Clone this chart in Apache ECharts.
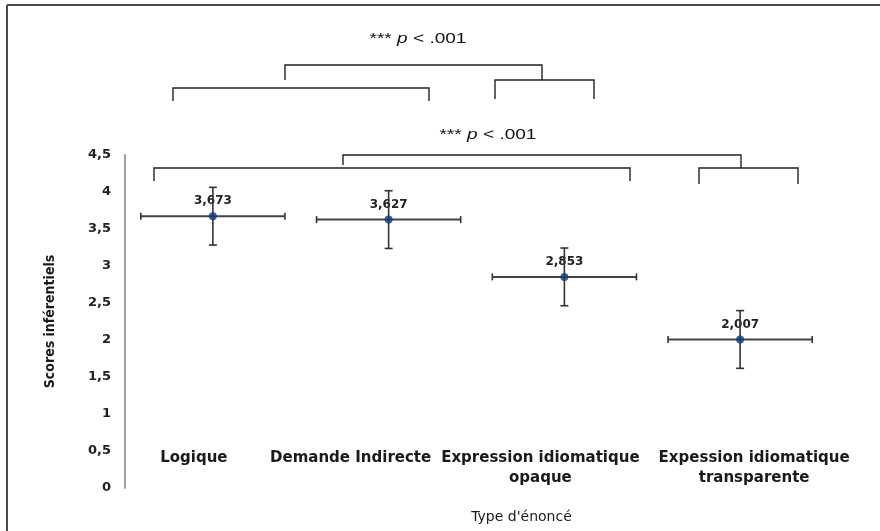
<!DOCTYPE html>
<html>
<head>
<meta charset="utf-8">
<script src="https://cdn.jsdelivr.net/npm/echarts@6/dist/echarts.min.js"></script>
<style>
html,body{margin:0;padding:0;background:#ffffff;}
#chart{width:880px;height:531px;}
</style>
</head>
<body>
<div id="chart"></div>
<script>
// ---- data ----
const categories = ['Logique', 'Demande Indirecte', 'Expression idiomatique\nopaque', 'Expession idiomatique\ntransparente'];
const means = [3.673, 3.627, 2.853, 2.007];
const yErr = [0.39, 0.39, 0.39, 0.39];
const xErr = [0.41, 0.41, 0.41, 0.41];
const yMin = 0, yMax = 4.5, yStep = 0.5;
const yTitle = 'Scores inférentiels';
const xTitle = "Type d'énoncé";
const sigText = ['*** ', 'p', ' < .001'];

const comma = v => String(v).replace('.', ',');
const fmt3 = v => v.toFixed(3).replace('.', ',');

const labelShift = [-19, -38, -24, 14];
const rich = {};
labelShift.forEach((s, i) => {
  rich['c' + i] = {
    fontFamily: 'DejaVu Sans', fontWeight: 'bold', fontSize: 15, color: '#1a1a1a', lineHeight: 20,
    padding: s < 0 ? [0, -2 * s, 0, 0] : [0, 0, 0, 2 * s]
  };
});

const chart = echarts.init(document.getElementById('chart'), null, {renderer: 'canvas'});

function bracket(pts) {
  return {
    type: 'polyline',
    shape: {points: pts},
    style: {stroke: '#222', lineWidth: 1.4, fill: null},
    silent: true
  };
}
function sig(x, y) {
  return {
    type: 'text', x: x, y: y, scaleX: 1.27, scaleY: 1,
    style: {
      text: '{n|' + sigText[0] + '}{i|' + sigText[1] + '}{n|' + sigText[2] + '}',
      align: 'center', verticalAlign: 'middle',
      rich: {
        n: {fontFamily: 'Liberation Sans', fontSize: 15, fill: '#111'},
        i: {fontFamily: 'Liberation Sans', fontSize: 15, fontStyle: 'italic', fill: '#111'}
      }
    },
    silent: true
  };
}

const option = {
  animation: false,
  backgroundColor: '#ffffff',
  grid: {left: 125, right: 52, top: 155, bottom: 43},
  xAxis: {
    type: 'category',
    data: categories,
    boundaryGap: true,
    axisLine: {show: false},
    axisTick: {show: false},
    splitLine: {show: false},
    axisLabel: {
      interval: 0,
      margin: -40,
      formatter: (v, i) => v.split('\n').map(t => '{c' + i + '|' + t + '}').join('\n'),
      rich: rich
    },
    name: xTitle,
    nameLocation: 'middle',
    nameGap: 22,
    nameTextStyle: {fontFamily: 'DejaVu Sans', fontSize: 14, color: '#1a1a1a', padding: [0, 0, 0, 90]}
  },
  yAxis: {
    type: 'value',
    min: yMin, max: yMax, interval: yStep,
    axisLine: {show: true, lineStyle: {color: '#a0a0a0', width: 2}},
    axisTick: {show: false},
    splitLine: {show: false},
    axisLabel: {
      margin: 14,
      formatter: v => comma(v),
      fontFamily: 'DejaVu Sans', fontWeight: 'bold', fontSize: 13, color: '#222'
    },
    name: yTitle,
    nameLocation: 'middle',
    nameRotate: 90,
    nameGap: 68,
    nameTextStyle: {fontFamily: "'Liberation Sans Narrow', 'DejaVu Sans Condensed', 'Liberation Sans'", fontWeight: 'bold', fontSize: 14, color: '#1a1a1a'}
  },
  series: [
    {
      type: 'custom',
      z: 3,
      data: means.map((m, i) => [i, m, yErr[i], xErr[i]]),
      renderItem: (params, api) => {
        const i = api.value(0), m = api.value(1), ey = api.value(2), ex = api.value(3);
        const c = api.coord([i, m]);
        const bw = api.size([1, 0])[0];
        const top = api.coord([i, m + ey]);
        const bot = api.coord([i, m - ey]);
        const hx = ex * bw;
        const ls = {stroke: '#333', lineWidth: 1.6};
        const line = (x1, y1, x2, y2, st) => ({type: 'line', shape: {x1, y1, x2, y2}, style: st || ls});
        return {
          type: 'group',
          children: [
            {type: 'text', style: {text: fmt3(m), x: c[0], y: c[1] - 9, align: 'center', verticalAlign: 'bottom',
              font: 'bold 12px "DejaVu Sans"', fill: '#222'}},
            line(c[0] - hx, c[1], c[0] + hx, c[1], {stroke: '#444', lineWidth: 2}),
            line(c[0] - hx, c[1] - 3.5, c[0] - hx, c[1] + 3.5),
            line(c[0] + hx, c[1] - 3.5, c[0] + hx, c[1] + 3.5),
            line(c[0], top[1], c[0], bot[1]),
            line(c[0] - 4, top[1], c[0] + 4, top[1]),
            line(c[0] - 4, bot[1], c[0] + 4, bot[1])
          ]
        };
      }
    },
    {
      type: 'scatter',
      z: 4,
      data: means.map((m, i) => [i, m]),
      symbol: 'circle',
      symbolSize: 8,
      itemStyle: {color: '#0d3c78'},
      label: {show: false}
    }
  ],
  graphic: [
    // outer frame
    {type: 'line', shape: {x1: 7, y1: 5, x2: 880, y2: 5}, style: {stroke: '#4a4a4a', lineWidth: 2}, silent: true},
    {type: 'line', shape: {x1: 7, y1: 5, x2: 7, y2: 531}, style: {stroke: '#4a4a4a', lineWidth: 2}, silent: true},
    // upper significance brackets
    sig(418, 39),
    bracket([[173, 101], [173, 88], [429, 88], [429, 101]]),
    bracket([[495, 99], [495, 80], [594, 80], [594, 99]]),
    bracket([[285, 80], [285, 65], [542, 65], [542, 80]]),
    // lower significance brackets
    sig(488, 135),
    bracket([[154, 181], [154, 168], [630, 168], [630, 181]]),
    bracket([[699, 184], [699, 168], [798, 168], [798, 184]]),
    bracket([[343, 165], [343, 155], [741, 155], [741, 168]])
  ]
};
chart.setOption(option);
</script>
</body>
</html>
